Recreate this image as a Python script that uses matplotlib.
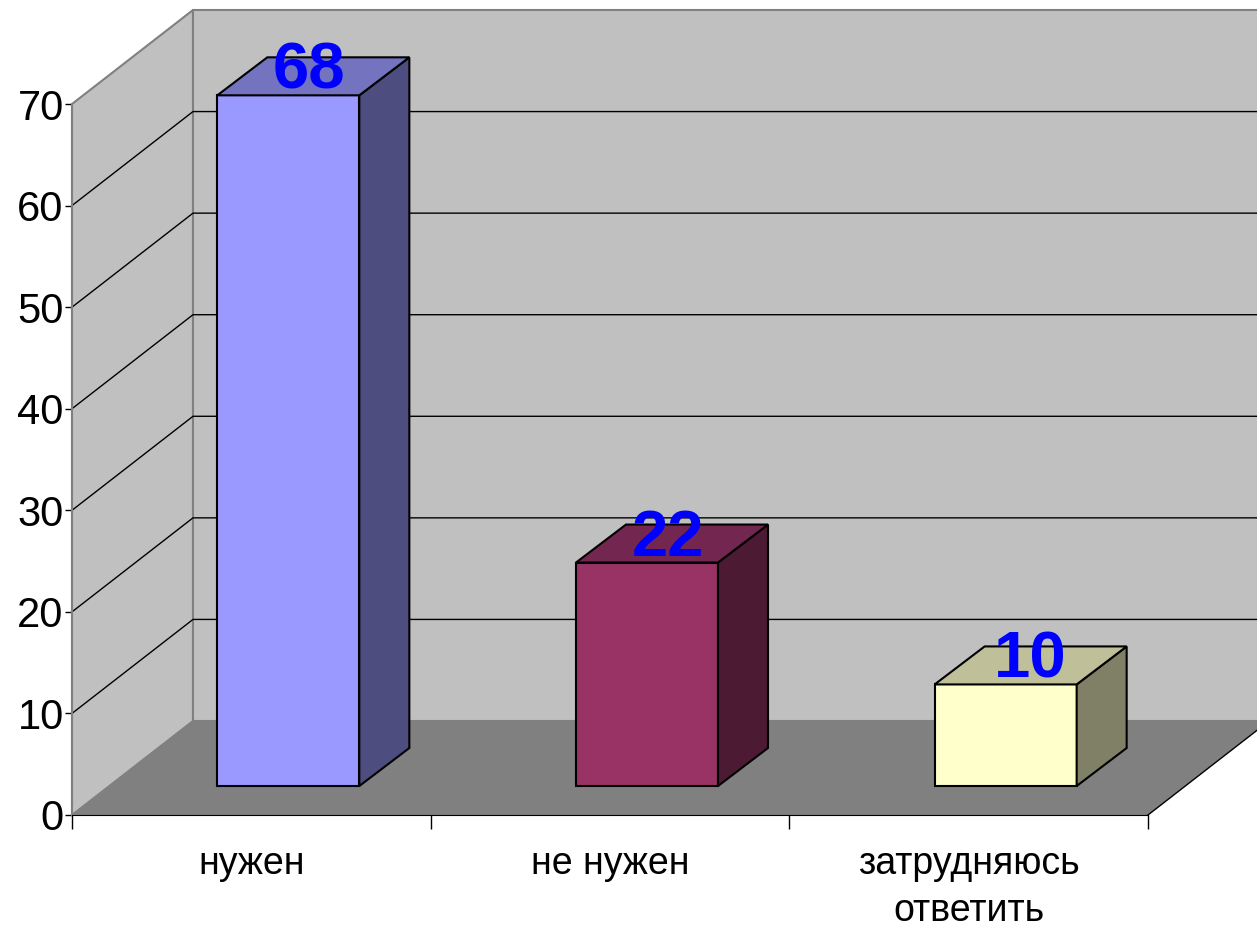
import matplotlib
matplotlib.use("Agg")
import matplotlib.pyplot as plt
from matplotlib.patches import Polygon

categories = ["нужен", "не нужен", "затрудняюсь\nответить"]
values = [68, 22, 10]
face_colors = ["#9999ff", "#993366", "#ffffcc"]
side_colors = ["#4d4d80", "#4d1a33", "#808066"]
top_colors = ["#7373bf", "#732650", "#bfbf99"]
yticks = [0, 10, 20, 30, 40, 50, 60, 70]

W, H = 1257, 927
left, right, bottom, top = 72, 1148, 815, 104
xscale = (right - left) / 3.0
yscale = (bottom - top) / 70.0


def shift(x, y, px, py):
    # move a data point by a pixel offset, used for the fake 3d depth
    return (x + px / xscale, y + py / yscale)


plt.rcParams['font.family'] = ['Liberation Sans', 'DejaVu Sans']
fig = plt.figure(figsize=(W / 100, H / 100), dpi=100)
ax = fig.add_axes([left / W, 1 - bottom / H, (right - left) / W, (bottom - top) / H])
ax.set_xlim(0, 3)
ax.set_ylim(0, 70)
ax.patch.set_visible(False)

wall_dx, wall_dy = 121, 94
front_dx, front_dy = 37, 29
back_dx, back_dy = 87, 67
bar_w = 142 / xscale
xmax = (W - left) / xscale + 1

# walls and floor
ax.add_patch(Polygon([(0, 0), (0, 70), shift(0, 70, wall_dx, wall_dy), shift(0, 0, wall_dx, wall_dy)],
                     fc="#c0c0c0", ec="#808080", lw=1.5, clip_on=False, zorder=0))
ax.add_patch(Polygon([shift(0, 0, wall_dx, wall_dy), shift(0, 70, wall_dx, wall_dy),
                      (xmax, 70 + wall_dy / yscale), (xmax, wall_dy / yscale)],
                     fc="#c0c0c0", ec="#808080", lw=1.5, clip_on=False, zorder=0))
ax.add_patch(Polygon([(0, 0), (3, 0), shift(3, 0, wall_dx, wall_dy), shift(0, 0, wall_dx, wall_dy)],
                     fc="#808080", ec="none", clip_on=False, zorder=1))
ax.add_patch(Polygon([(3, 0), (xmax, 0), (xmax, wall_dy / yscale), shift(3, 0, wall_dx, wall_dy)],
                     fc="white", ec="none", clip_on=False, zorder=1))
ax.plot(*zip((3, 0), shift(3, 0, wall_dx, wall_dy)), color="black", lw=1, clip_on=False, zorder=1.5)

# grid, the 70 line is the grey top edge of the walls
for t in yticks[1:-1]:
    p0 = (0, t)
    p1 = shift(0, t, wall_dx, wall_dy)
    p2 = (xmax, t + wall_dy / yscale)
    ax.plot([p0[0], p1[0], p2[0]], [p0[1], p1[1], p2[1]], color="black", lw=1, clip_on=False, zorder=2)

# bars
label_dx = [15, 15, 18]
for i in range(3):
    c = i + 0.5
    v = values[i]
    x0, y0 = shift(c - bar_w / 2, 0, front_dx, front_dy)
    x1 = x0 + bar_w
    ax.bar(x0, v, bar_w, bottom=y0, align="edge", color=face_colors[i], edgecolor="black", lw=1.5,
           clip_on=False, zorder=5)
    bx = (back_dx - front_dx) / xscale
    by = (back_dy - front_dy) / yscale
    ax.add_patch(Polygon([(x1, y0), (x1, y0 + v), (x1 + bx, y0 + v + by), (x1 + bx, y0 + by)],
                         fc=side_colors[i], ec="black", lw=1.5, clip_on=False, zorder=5))
    ax.add_patch(Polygon([(x0, y0 + v), (x1, y0 + v), (x1 + bx, y0 + v + by), (x0 + bx, y0 + v + by)],
                         fc=top_colors[i], ec="black", lw=1.5, clip_on=False, zorder=5))
    ax.annotate(str(v), (x0 + bar_w / 2, y0 + v), xytext=(label_dx[i], 17), textcoords="offset points",
                ha="center", va="center", fontsize=47, fontweight="bold", color="#0000ff",
                annotation_clip=False, zorder=6)

for s in ["top", "right"]:
    ax.spines[s].set_visible(False)
ax.spines["left"].set_color("#808080")
ax.spines["left"].set_linewidth(1.5)
ax.spines["bottom"].set_color("black")
ax.spines["bottom"].set_zorder(3)

ax.set_yticks(yticks)
ax.tick_params(axis="y", labelsize=30, length=5, width=1, pad=1, colors="black")
ax.set_xticks([0, 1, 2, 3])
ax.set_xticklabels([])
ax.tick_params(axis="x", which="major", length=10, width=1)
ax.set_xticks([0.5, 1.5, 2.5], categories, minor=True, fontsize=27, linespacing=1.4)
ax.tick_params(axis="x", which="minor", length=0, pad=22)

fig.savefig("out.png", dpi=100, facecolor="white")
